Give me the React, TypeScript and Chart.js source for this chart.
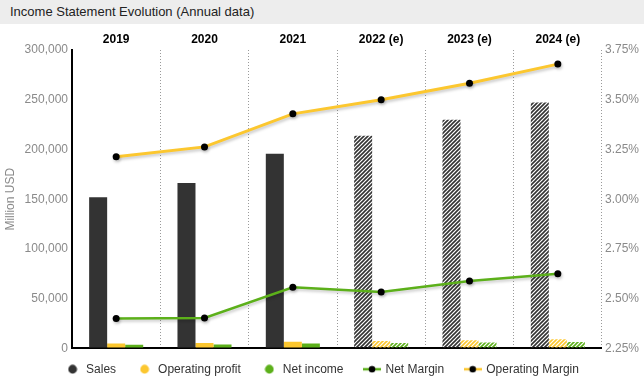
import React, { useEffect, useRef } from 'react';
import { Chart, registerables } from 'chart.js';

Chart.register(...registerables);

// ---- data ----
const categories = ['2019', '2020', '2021', '2022 (e)', '2023 (e)', '2024 (e)'];
const isEstimate = [false, false, false, true, true, true];
const sales = [152000, 166300, 195600, 213900, 230000, 247300];
const operatingProfit = [4880, 5430, 6710, 7490, 8240, 9100];
const netIncome = [3650, 4000, 5000, 5420, 5960, 6490];
const netMargin = [2.4, 2.403, 2.557, 2.534, 2.589, 2.625];
const operatingMargin = [3.213, 3.263, 3.429, 3.5, 3.583, 3.679];
const leftTickValues = [0, 50000, 100000, 150000, 200000, 250000, 300000];
const rightTickValues = [2.25, 2.5, 2.75, 3.0, 3.25, 3.5, 3.75];

const DARK = '#333333';
const YELLOW = '#fcc72f';
const GREEN = '#5cb01a';
const TICK_GREY = '#8a8a8a';
const FONT = 'Arial, "Liberation Sans", Helvetica, sans-serif';

function makeHatch(ctx: CanvasRenderingContext2D, color: string) {
  const c = document.createElement('canvas');
  const p = 4;
  c.width = p;
  c.height = p;
  const x = c.getContext('2d')!;
  x.strokeStyle = color;
  x.lineWidth = 1.6;
  x.beginPath();
  x.moveTo(0, p);
  x.lineTo(p, 0);
  x.moveTo(-1, 1);
  x.lineTo(1, -1);
  x.moveTo(p - 1, p + 1);
  x.lineTo(p + 1, p - 1);
  x.stroke();
  return ctx.createPattern(c, 'repeat') as CanvasPattern;
}

function circleMarker(color: string) {
  const c = document.createElement('canvas');
  c.width = 10;
  c.height = 10;
  const x = c.getContext('2d')!;
  x.fillStyle = color;
  x.beginPath();
  x.arc(5, 5, 4.4, 0, Math.PI * 2);
  x.fill();
  return c;
}

function lineMarker(color: string) {
  const c = document.createElement('canvas');
  c.width = 18;
  c.height = 8;
  const x = c.getContext('2d')!;
  x.strokeStyle = color;
  x.lineWidth = 2.5;
  x.beginPath();
  x.moveTo(0, 4);
  x.lineTo(18, 4);
  x.stroke();
  x.fillStyle = '#000';
  x.beginPath();
  x.arc(9, 4, 3.3, 0, Math.PI * 2);
  x.fill();
  return c;
}

const lineShadow = {
  id: 'lineShadow',
  beforeDatasetDraw(chart: any, args: any) {
    const ds = chart.data.datasets[args.index];
    if (ds.type === 'line') {
      const ctx = chart.ctx;
      ctx.save();
      ctx.shadowColor = 'rgba(0,0,0,0.22)';
      ctx.shadowBlur = 3;
      ctx.shadowOffsetX = 1;
      ctx.shadowOffsetY = 2;
    }
  },
  afterDatasetDraw(chart: any, args: any) {
    const ds = chart.data.datasets[args.index];
    if (ds.type === 'line') chart.ctx.restore();
  },
};

const legendShift = {
  id: 'legendShift',
  afterLayout(chart: any) {
    const lg = chart.legend;
    if (!lg) return;
    const dy = -6.2;
    lg.top += dy;
    lg.bottom += dy;
  },
};

export default function App() {
  const ref = useRef<HTMLCanvasElement | null>(null);

  useEffect(() => {
    const canvas = ref.current!;
    const ctx = canvas.getContext('2d')!;
    Chart.defaults.font.family = FONT;

    const hatchDark = makeHatch(ctx, DARK);
    const hatchYellow = makeHatch(ctx, YELLOW);
    const hatchGreen = makeHatch(ctx, GREEN);

    const markers = [
      circleMarker(DARK),
      circleMarker(YELLOW),
      circleMarker(GREEN),
      lineMarker(GREEN),
      lineMarker(YELLOW),
    ];

    const barCommon = {
      type: 'bar' as const,
      yAxisID: 'y',
      order: 2,
      barPercentage: 1,
      categoryPercentage: 0.612,
      borderWidth: 0,
    };

    const chart = new Chart(ctx, {
      type: 'bar',
      data: {
        labels: categories,
        datasets: [
          {
            ...barCommon,
            label: 'Sales',
            data: sales,
            backgroundColor: isEstimate.map((e) => (e ? hatchDark : DARK)),
          },
          {
            ...barCommon,
            label: 'Operating profit',
            data: operatingProfit,
            backgroundColor: isEstimate.map((e) => (e ? hatchYellow : YELLOW)),
          },
          {
            ...barCommon,
            label: 'Net income',
            data: netIncome,
            backgroundColor: isEstimate.map((e) => (e ? hatchGreen : GREEN)),
          },
          {
            type: 'line',
            label: 'Net Margin',
            data: netMargin,
            yAxisID: 'y1',
            order: 1,
            borderColor: GREEN,
            borderWidth: 2.5,
            pointRadius: 3.5,
            pointBackgroundColor: '#000',
            pointBorderWidth: 0,
            tension: 0,
          },
          {
            type: 'line',
            label: 'Operating Margin',
            data: operatingMargin,
            yAxisID: 'y1',
            order: 1,
            borderColor: YELLOW,
            borderWidth: 3,
            pointRadius: 3.5,
            pointBackgroundColor: '#000',
            pointBorderWidth: 0,
            tension: 0,
          },
        ] as any,
      },
      options: {
        responsive: false,
        animation: false,
        layout: { padding: { left: 0, right: 0, top: 0, bottom: -11.4 } },
        plugins: {
          title: { display: false },
          tooltip: { enabled: false },
          legend: {
            position: 'bottom',
            align: 'center',
            labels: {
              usePointStyle: true,
              pointStyleWidth: 15,
              boxWidth: 15,
              padding: 21,
              color: '#333',
              font: { size: 12, family: FONT },
              generateLabels: (ch: any) =>
                ch.data.datasets.map((ds: any, i: number) => ({
                  text: ds.label,
                  pointStyle: markers[i],
                  fillStyle: 'transparent',
                  strokeStyle: 'transparent',
                  lineWidth: 0,
                  hidden: false,
                  datasetIndex: i,
                  fontColor: '#333',
                })),
            },
          },
        },
        scales: {
          x: {
            position: 'top',
            offset: true,
            grid: {
              display: true,
              offset: true,
              color: '#9a9a9a',
              lineWidth: 1,
              drawTicks: false,
            },
            border: { display: false, dash: [1, 2] },
            ticks: {
              color: '#000',
              font: { size: 12, weight: 'bold', family: FONT },
              padding: 3,
              maxRotation: 0,
            },
            afterFit: (s: any) => {
              s.height = 26;
            },
          },
          y: {
            position: 'left',
            min: leftTickValues[0],
            max: leftTickValues[leftTickValues.length - 1],
            afterBuildTicks: (s: any) => {
              s.ticks = leftTickValues.map((v) => ({ value: v }));
            },
            ticks: {
              color: TICK_GREY,
              font: { size: 12, family: FONT },
              padding: 4,
              callback: (v: any) => Number(v).toLocaleString('en-US'),
            },
            grid: {
              drawTicks: false,
              lineWidth: 2,
              color: (c: any) => (c.tick && c.tick.value === 0 ? '#000' : 'rgba(0,0,0,0)'),
            },
            border: { display: true, color: '#000', width: 2 },
            title: {
              display: true,
              text: 'Million USD',
              color: TICK_GREY,
              font: { size: 12, family: FONT },
              padding: { top: 3, bottom: 0 },
            },
            afterFit: (s: any) => {
              s.width = 72;
            },
          },
          y1: {
            position: 'right',
            min: rightTickValues[0],
            max: rightTickValues[rightTickValues.length - 1],
            afterBuildTicks: (s: any) => {
              s.ticks = rightTickValues.map((v) => ({ value: v }));
            },
            ticks: {
              color: TICK_GREY,
              font: { size: 12, family: FONT },
              padding: 3,
              callback: (v: any) => Number(v).toFixed(2) + '%',
            },
            grid: { display: false, drawTicks: false },
            border: { display: false },
            afterFit: (s: any) => {
              s.width = 42;
            },
          },
        },
      } as any,
      plugins: [lineShadow, legendShift],
    });

    return () => chart.destroy();
  }, []);

  return (
    <div style={{ width: 644, height: 380, background: '#fff', fontFamily: FONT }}>
      <style>{'body{margin:0;}'}</style>
      <div
        style={{
          height: 24,
          background: '#ededed',
          color: '#222',
          fontSize: 13,
          lineHeight: '24px',
          paddingLeft: 10,
          boxSizing: 'border-box',
        }}
      >
        Income Statement Evolution (Annual data)
      </div>
      <canvas ref={ref} width={644} height={356} style={{ display: 'block', width: 644, height: 356 }} />
    </div>
  );
}
